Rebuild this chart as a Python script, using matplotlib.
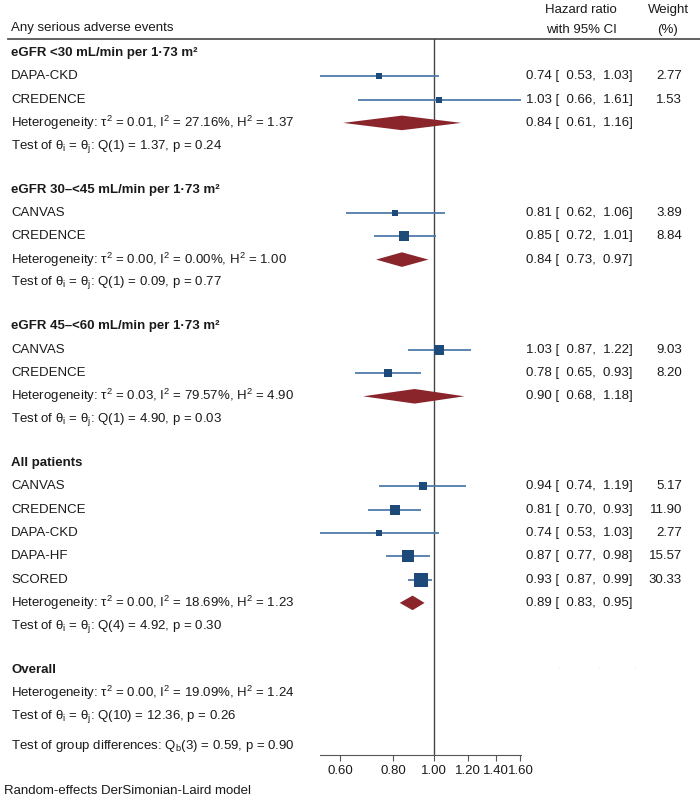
import matplotlib
matplotlib.use('Agg')
import matplotlib.pyplot as plt
import numpy as np

plt.rcParams['font.family'] = ['Liberation Sans', 'DejaVu Sans']
plt.rcParams['mathtext.fontset'] = 'custom'
plt.rcParams['mathtext.rm'] = 'Liberation Sans'
plt.rcParams['mathtext.default'] = 'regular'

# ---- data ----
group_titles = ['eGFR <30 mL/min per 1·73 m²',
                'eGFR 30–<45 mL/min per 1·73 m²',
                'eGFR 45–<60 mL/min per 1·73 m²',
                'All patients']
study_names = [['DAPA-CKD', 'CREDENCE'],
               ['CANVAS', 'CREDENCE'],
               ['CANVAS', 'CREDENCE'],
               ['CANVAS', 'CREDENCE', 'DAPA-CKD', 'DAPA-HF', 'SCORED']]
study_hr = [[0.74, 1.03], [0.81, 0.85], [1.03, 0.78], [0.94, 0.81, 0.74, 0.87, 0.93]]
study_lo = [[0.53, 0.66], [0.62, 0.72], [0.87, 0.65], [0.74, 0.70, 0.53, 0.77, 0.87]]
study_hi = [[1.03, 1.61], [1.06, 1.01], [1.22, 0.93], [1.19, 0.93, 1.03, 0.98, 0.99]]
study_wt = [[2.77, 1.53], [3.89, 8.84], [9.03, 8.20], [5.17, 11.90, 2.77, 15.57, 30.33]]
sub_hr = [0.84, 0.84, 0.90, 0.89]
sub_lo = [0.61, 0.73, 0.68, 0.83]
sub_hi = [1.16, 0.97, 1.18, 0.95]
het_text = ['τ$^2$ = 0.01, I$^2$ = 27.16%, H$^2$ = 1.37',
            'τ$^2$ = 0.00, I$^2$ = 0.00%, H$^2$ = 1.00',
            'τ$^2$ = 0.03, I$^2$ = 79.57%, H$^2$ = 4.90',
            'τ$^2$ = 0.00, I$^2$ = 18.69%, H$^2$ = 1.23']
test_text = ['Q(1) = 1.37, p = 0.24', 'Q(1) = 0.09, p = 0.77',
             'Q(1) = 4.90, p = 0.03', 'Q(4) = 4.92, p = 0.30']
overall_het = 'τ$^2$ = 0.00, I$^2$ = 19.09%, H$^2$ = 1.24'
overall_test = 'Q(10) = 12.36, p = 0.26'
group_diff = 'Q$_b$(3) = 0.59, p = 0.90'
xticks = [0.60, 0.80, 1.00, 1.20, 1.40, 1.60]

sq_col = '#1d4a78'
ci_col = '#4f7cab'
dia_col = '#8a252c'
txt_col = '#1a1a1a'
fs = 9.5

fig = plt.figure(figsize=(7, 8.01), dpi=100)
bg = fig.add_axes([0, 0, 1, 1])
bg.set_xlim(0, 700)
bg.set_ylim(801, 0)
bg.axis('off')

top, bottom = 38.5, 755
ax = fig.add_axes([320 / 700, (801 - bottom) / 801, 201 / 700, (bottom - top) / 801])
ax.set_facecolor('none')
ax.set_xscale('log')
ax.set_xlim(0.538, 1.605)
ax.set_ylim(bottom, top)
for s in ['top', 'left', 'right']:
    ax.spines[s].set_visible(False)
ax.spines['bottom'].set_color('#555555')
ax.set_yticks([])
ax.set_xticks(xticks)
ax.set_xticklabels([f'{t:.2f}' for t in xticks], fontsize=fs, color=txt_col)
ax.minorticks_off()
ax.tick_params(axis='x', length=4, color='#555555', pad=3)
ax.axvline(1.0, color='#444444', lw=1.0, zorder=1)

# header
bg.text(11, 28, 'Any serious adverse events', fontsize=fs, color=txt_col, va='center')
bg.text(581, 10, 'Hazard ratio', fontsize=fs, color=txt_col, va='center', ha='center')
bg.text(581, 30, 'with 95% CI', fontsize=fs, color=txt_col, va='center', ha='center')
bg.text(668, 10, 'Weight', fontsize=fs, color=txt_col, va='center', ha='center')
bg.text(668, 30, '(%)', fontsize=fs, color=txt_col, va='center', ha='center')
bg.plot([8, 700], [top, top], color='#555555', lw=1.3)

def ci_label(y, hr, lo, hi):
    bg.text(526, y, f'{hr:.2f} [  {lo:.2f},  {hi:.2f}]', fontsize=fs,
            color=txt_col, va='center')

step = 23.3
y = 53
for g in range(len(group_titles)):
    bg.text(11, y, group_titles[g], fontsize=fs, fontweight='bold', color=txt_col, va='center')
    y += step
    for name, hr, lo, hi, w in zip(study_names[g], study_hr[g], study_lo[g],
                                   study_hi[g], study_wt[g]):
        bg.text(11, y, name, fontsize=fs, color=txt_col, va='center')
        ax.plot([lo, hi], [y, y], color=ci_col, lw=1.3, solid_capstyle='butt', zorder=2)
        side_px = 2.2 + 2.3 * np.sqrt(w)
        ax.plot(hr, y, marker='s', ms=side_px * 0.72, color=sq_col,
                mec=sq_col, mew=0, zorder=3)
        ci_label(y, hr, lo, hi)
        bg.text(682, y, f'{w:.2f}', fontsize=fs, color=txt_col, va='center', ha='right')
        y += step
    bg.text(11, y, 'Heterogeneity: ' + het_text[g], fontsize=fs, color=txt_col, va='center')
    ax.fill([sub_lo[g], sub_hr[g], sub_hi[g], sub_hr[g]], [y, y - 7.3, y, y + 7.3],
            color=dia_col, lw=0, zorder=3)
    ci_label(y, sub_hr[g], sub_lo[g], sub_hi[g])
    y += step
    bg.text(11, y, 'Test of θ$_i$ = θ$_j$: ' + test_text[g], fontsize=fs, color=txt_col, va='center')
    y += 43.5

bg.text(11, y, 'Overall', fontsize=fs, fontweight='bold', color=txt_col, va='center')
for xx in [558, 598, 634]:
    bg.text(xx, y - 2, '.', fontsize=5, color='#cccccc', ha='center', va='center')
y += step
bg.text(11, y, 'Heterogeneity: ' + overall_het, fontsize=fs, color=txt_col, va='center')
y += step
bg.text(11, y, 'Test of θ$_i$ = θ$_j$: ' + overall_test, fontsize=fs, color=txt_col, va='center')
y += 30
bg.text(11, y, 'Test of group differences: ' + group_diff, fontsize=fs, color=txt_col, va='center')

bg.text(4, 791, 'Random-effects DerSimonian-Laird model', fontsize=fs, color=txt_col, va='center')

fig.savefig('out.png', dpi=100)
